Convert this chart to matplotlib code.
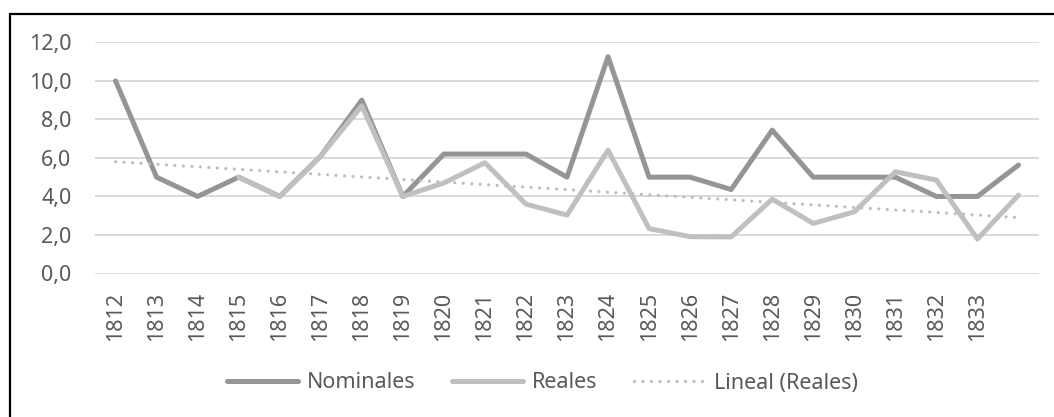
import numpy as np
import matplotlib
matplotlib.use("Agg")
import matplotlib.pyplot as plt
from matplotlib.patches import Rectangle

years = list(range(1812, 1835))
tick_labels = [str(y) for y in range(1812, 1834)] + [""]
nominales = [10.0, 5.0, 4.0, 5.0, 4.0, 6.1, 9.0, 4.0, 6.2, 6.2, 6.2, 5.0,
             11.25, 5.0, 5.0, 4.36, 7.44, 5.0, 5.0, 5.0, 4.0, 4.0, 5.63]
reales = [np.nan, np.nan, np.nan, 5.0, 4.0, 6.1, 8.7, 4.0, 4.7, 5.75, 3.6, 3.03,
          6.4, 2.33, 1.91, 1.9, 3.86, 2.6, 3.2, 5.28, 4.85, 1.79, 4.07]
yticks = [0, 2, 4, 6, 8, 10, 12]

plt.rcParams['font.family'] = ['Noto Sans', 'DejaVu Sans']
TXT = '#595959'
FS = 15.5

fig = plt.figure(figsize=(10.54, 4.17), dpi=100)
W, H = 1054, 417
ax = fig.add_axes([95 / W, (H - 273.5) / H, (1039 - 95) / W, (273.5 - 42.3) / H])

x = np.arange(len(years))
r = np.array(reales, dtype=float)
mask = ~np.isnan(r)
coef = np.polyfit(x[mask], r[mask], 1)
trend = np.polyval(coef, x)

for yv in yticks:
    ax.axhline(yv, color='#d9d9d9', lw=1.4, zorder=0)

ax.plot(x, nominales, color='#959595', lw=3.6, solid_joinstyle='round',
        solid_capstyle='round', label='Nominales', zorder=3)
ax.plot(x, r, color='#c0c0c0', lw=3.6, solid_joinstyle='round',
        solid_capstyle='round', label='Reales', zorder=4)
ax.plot(x, trend, color='#bdbdbd', lw=2.3, linestyle=(0, (0.01, 2.65)),
        dash_capstyle='round', label='Lineal (Reales)', zorder=5)

ax.set_xlim(-0.5, len(years) - 0.5)
ax.set_ylim(0, 12)
ax.set_xticks(x)
ax.set_xticklabels(tick_labels, rotation=90, fontsize=FS, color=TXT)
ax.set_yticks(yticks)
ax.set_yticklabels([f"{v:.1f}".replace('.', ',') for v in yticks], fontsize=FS, color=TXT)
ax.tick_params(axis='both', length=0)
ax.tick_params(axis='y', pad=17)
ax.tick_params(axis='x', pad=13)
for s in ax.spines.values():
    s.set_visible(False)

leg = fig.legend(loc='center', bbox_to_anchor=(542.5 / W, (H - 383) / H), ncol=3,
                 frameon=False, fontsize=FS, handlelength=3.3, handletextpad=0.4,
                 columnspacing=1.7, labelcolor=TXT)

fig.patches.append(Rectangle((9.5 / W, -0.1), 1.2, (H - 14) / H + 0.1,
                             transform=fig.transFigure, fill=False,
                             edgecolor='black', lw=1.6))

fig.savefig('out.png', dpi=100)
